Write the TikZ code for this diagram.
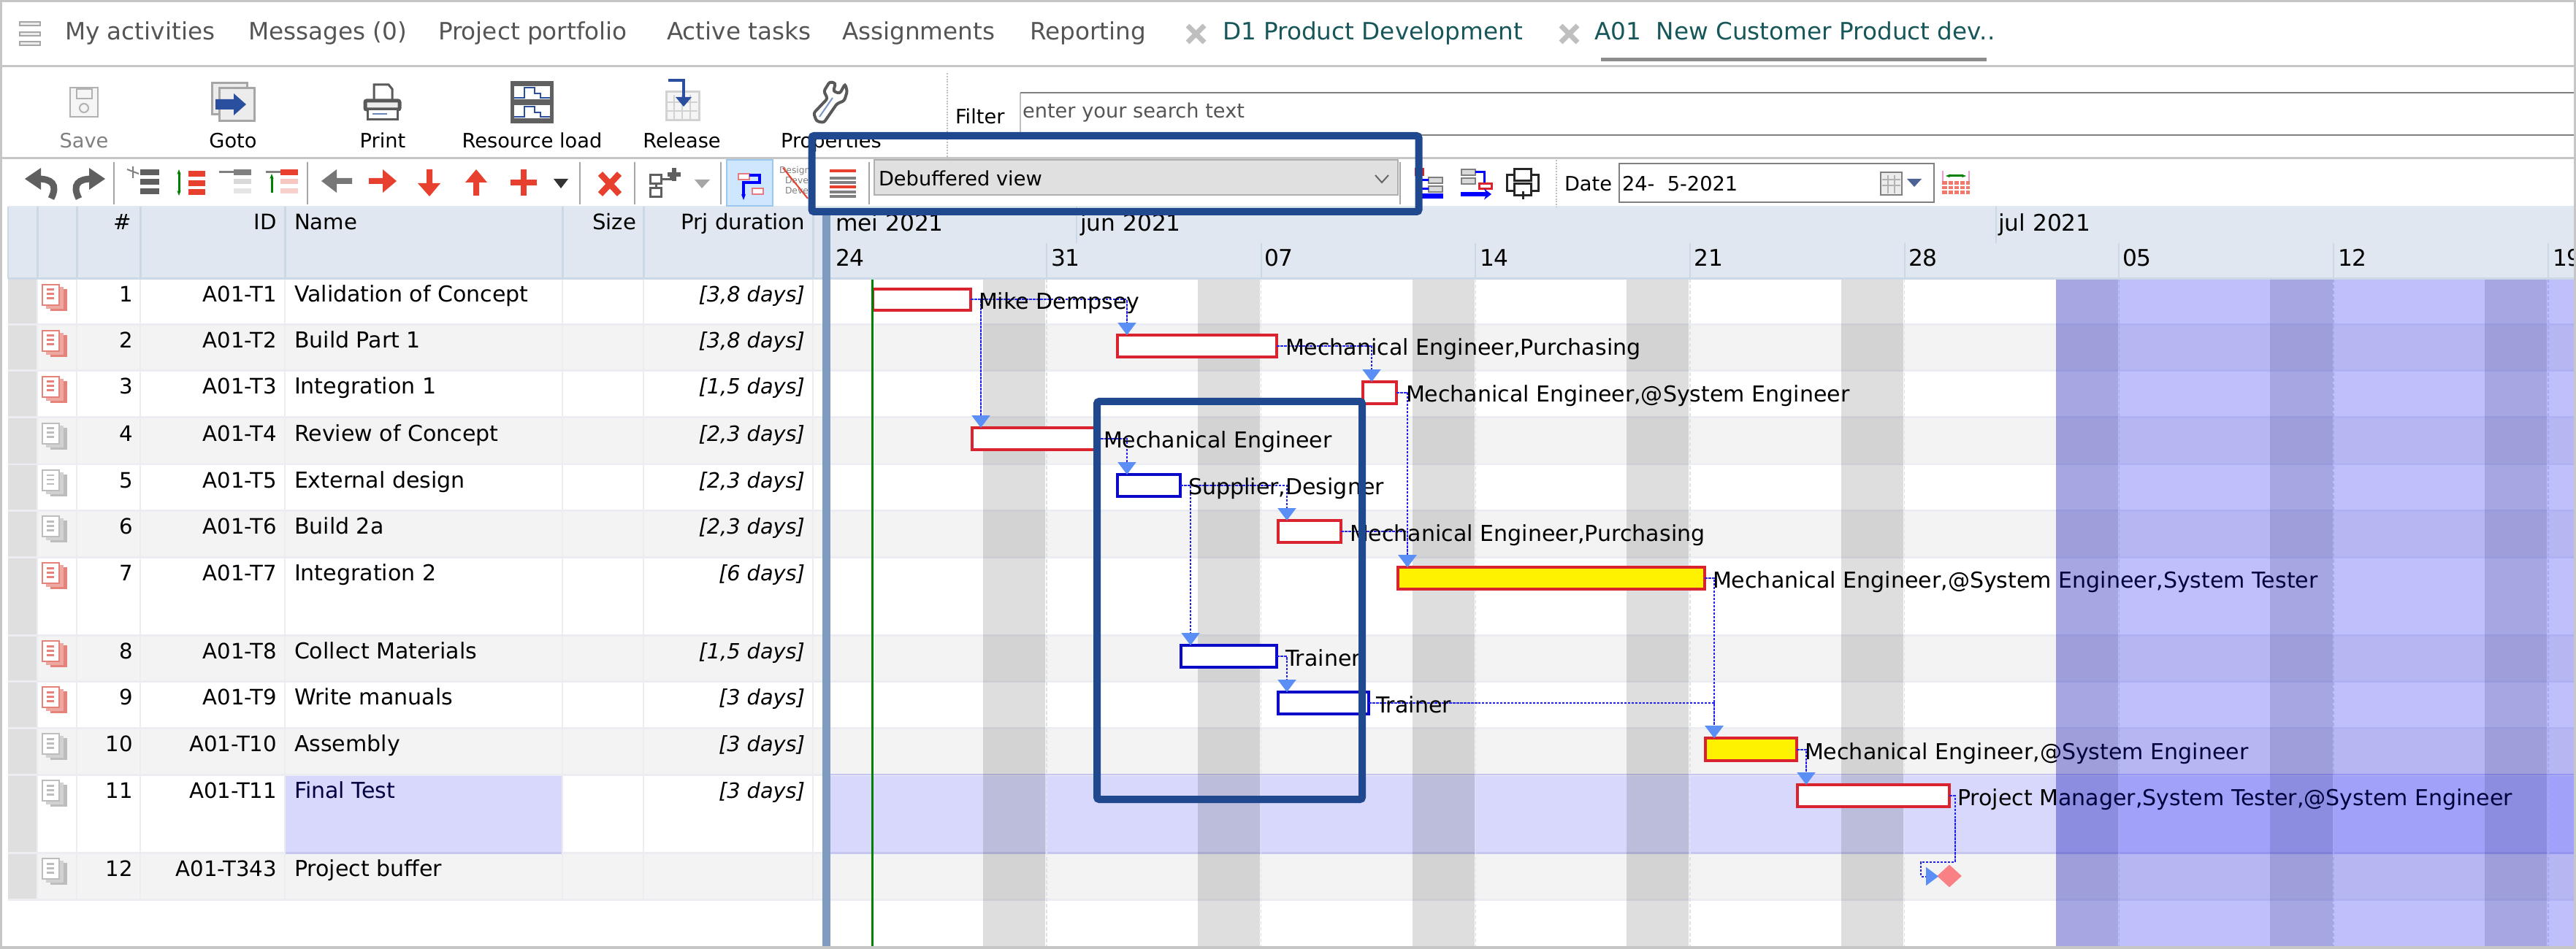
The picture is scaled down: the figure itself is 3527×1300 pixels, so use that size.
\documentclass[tikz,border=0pt]{standalone}
\usepackage{fontspec}
\setmainfont{DejaVu Sans}
\newfontfamily\ganttf{DejaVu Sans}
\usetikzlibrary{arrows.meta,shapes.geometric}
\definecolor{rowgray}{HTML}{F3F3F3}
\definecolor{rowline}{HTML}{EBEDF3}
\definecolor{headfill}{HTML}{E0E7F0}
\definecolor{headline}{HTML}{CBD8E6}
\definecolor{selrow}{HTML}{D8D8FC}
\definecolor{selline}{HTML}{C6C6F0}
\definecolor{leftcol}{HTML}{DFDFDF}
\definecolor{splitbar}{HTML}{7F9CC0}
\definecolor{frameg}{HTML}{C6C6C6}
\definecolor{barred}{HTML}{D9232E}
\definecolor{barblue}{HTML}{0A0AC8}
\definecolor{linkblue}{HTML}{2222EE}
\definecolor{tipblue}{HTML}{5B8FF5}
\definecolor{boxblue}{HTML}{20488F}
\definecolor{gridline}{HTML}{DCE2EE}
\definecolor{tabgray}{HTML}{555555}
\definecolor{tabteal}{HTML}{17575A}
\definecolor{iconred}{HTML}{E8402E}
\definecolor{icongray}{HTML}{5F5F5F}
\definecolor{pagered}{HTML}{E5837A}
\definecolor{pagegray}{HTML}{BDBDBD}
\definecolor{okgreen}{HTML}{4CAF50}
\definecolor{navy}{HTML}{2A4F9F}
\definecolor{overlayblue}{RGB}{0,0,244}
\definecolor{selbtn}{HTML}{CFE6FF}
\definecolor{selbtnl}{HTML}{9CC8EF}
\definecolor{dropfill}{HTML}{E0E0E0}
\definecolor{dropline}{HTML}{B0B0B0}
\definecolor{diamondred}{HTML}{F98085}
\newcommand\tabsize{\fontsize{18.6pt}{21pt}\selectfont}
\newcommand\listsize{\fontsize{17.1pt}{20pt}\selectfont}
\newcommand\toolsize{\fontsize{15.5pt}{18pt}\selectfont}
\newcommand\calsize{\fontsize{17.8pt}{20pt}\selectfont}
\newcommand\ganttsize{\fontsize{17.1pt}{20pt}\selectfont\ganttf}
\tikzset{
  x=0.02cm,y=-0.02cm,
  txt/.style={anchor=base west,inner sep=0pt,outer sep=0pt,font=\listsize,text=black},
  txtr/.style={txt,anchor=base east},
  heada/.style={txt,font=\fontsize{16.6pt}{20pt}\selectfont},
  headr/.style={heada,anchor=base east},
  calt/.style={txt,font=\calsize},
  toolt/.style={txt,font=\toolsize},
  txtc/.style={toolt,anchor=base},
  tabt/.style={txt,font=\tabsize,text=tabgray},
  tealt/.style={tabt,text=tabteal},
  ganttt/.style={txt,font=\ganttsize},
  px3/.style={line width=0.06cm},
  px2/.style={line width=0.04cm},
  redbar/.style={draw=barred,line width=0.07cm,fill=white,inner sep=0pt,outer sep=0pt},
  bluebar/.style={redbar,draw=barblue},
  yellowbar/.style={redbar,fill=yellow},
  link/.style={draw=linkblue,line width=0.04cm,dash pattern=on 0.07cm off 0.03cm},
  linkin/.style={link,-{Triangle[length=0.34cm,width=0.5cm,color=tipblue]}},
  hilite/.style={draw=boxblue,line width=0.2cm,rounded corners=0.06cm},
}
\newcommand\lbl[5][txt]{\node[#1] (#2) at (#3,#4) {#5};}
\newcommand\taskbar[6]{\node[#6,anchor=north west,minimum width={(#4-#2)*0.02cm},minimum height={(#5-#3)*0.02cm}] (#1) at (#2,#3) {};}
\newcommand\taskicon[3]{%
  \begin{scope}[shift={(#1,#2)}]
    \fill[#3] (12,7) rectangle (35,37);
    \fill[#3!70!white] (6,4) rectangle (30,34);
    \draw[#3,px2,fill=white] (1,1) rectangle (24,29);
    \foreach \q in {8,14,20}{\draw[#3,px3] (7,\q) -- (17,\q);}
  \end{scope}}
\begin{document}
\begin{tikzpicture}
\useasboundingbox (0,0) rectangle (3527,1300);
\fill[white] (0,0) rectangle (3527,1300);
% ---- chart and list rows
\foreach \t/\b in {445/508,572/636,699/763,870/933,997/1061,1168/1232}{
  \fill[rowgray] (105,\t) rectangle (1126,\b);
  \fill[rowgray] (1137,\t) rectangle (3527,\b);
}
\fill[selrow] (1137,1061) rectangle (3527,1168);
\fill[selrow] (390,1061) rectangle (770,1168);
\fill[leftcol] (11,382) rectangle (51,1232);
\fill[rowgray] (51,445) rectangle (105,508);
\fill[rowgray] (51,572) rectangle (105,636);
\fill[rowgray] (51,699) rectangle (105,763);
\fill[rowgray] (51,870) rectangle (105,933);
\fill[rowgray] (51,997) rectangle (105,1061);
\fill[rowgray] (51,1168) rectangle (105,1232);
\foreach \y in {445,508,572,636,699,763,870,933,997,1061,1232}{
  \draw[rowline,px3] (11,\y) -- (3527,\y);
}
\draw[selline,px3] (390,1168) -- (770,1168);
\draw[selline,px3] (1137,1168) -- (3527,1168);
\draw[selline,px2] (1137,1061) -- (3527,1061);
\draw[rowline,px3] (11,1168) -- (390,1168);
\draw[rowline,px3] (770,1168) -- (1126,1168);
\foreach \x in {51,105,192,390,770,881,1113}{
  \draw[rowline,px2] (\x,382) -- (\x,1232);
}
% ---- weekends
\foreach \x/\w in {1346/1431,1640/1725,1933.5/2019,2227/2312,2521/2606}{
  \fill[black,opacity=0.13] (\x,382) rectangle (\w,1297);
}
\foreach \x/\w in {2815/2900,3108/3194,3402/3487}{
  \fill[black,opacity=0.13] (\x,382) rectangle (\w,1297);
}
\foreach \x in {1433,1726.6,2020.3,2314,2607.7,2901.4,3195,3488.8}{
  \draw[gridline,line width=0.03cm,dash pattern=on 0.1cm off 0.06cm] (\x,382) -- (\x,1297);
}
% ---- bars
\taskbar{t1}{1195}{396}{1329}{425}{redbar}
\taskbar{t2}{1530}{459}{1748}{489}{redbar}
\taskbar{t3}{1866}{523}{1912}{553}{redbar}
\taskbar{t4}{1331}{586}{1502}{616}{redbar}
\taskbar{t5}{1530}{650}{1616}{680}{bluebar}
\taskbar{t6}{1750}{713}{1836}{743}{redbar}
\taskbar{t7}{1914}{777}{2334}{807}{yellowbar}
\taskbar{t8}{1617}{884}{1748}{914}{bluebar}
\taskbar{t9}{1750}{948}{1874}{978}{bluebar}
\taskbar{t10}{2335}{1011}{2460}{1042}{yellowbar}
\taskbar{t11}{2461}{1075}{2669}{1105}{redbar}
\node[diamond,fill=diamondred,inner sep=0pt,minimum width=0.68cm,minimum height=0.62cm] (pb) at (2669,1200) {};
% ---- connector targets
\coordinate (in2) at (1543,459);
\coordinate (in3) at (1878,523);
\coordinate (in4) at (1343,586);
\coordinate (in5) at (1543,650);
\coordinate (in6) at (1762,713);
\coordinate (in7) at (1927,777);
\coordinate (in8) at (1630,884);
\coordinate (in9) at (1762,948);
\coordinate (in10) at (2347,1011);
\coordinate (in11) at (2473,1075);
\coordinate (pb1) at (2676.5,1181);
\coordinate (pb2) at (2630,1200.5);
\coordinate (pbin) at (2654,1200.5);
\draw[linkin] (t1.east) -| (in2);
\draw[linkin] (t1.east) -| (in4);
\draw[linkin] (t2.east) -| (in3);
\draw[linkin] (t3.east) -| (in7);
\draw[linkin] (t4.east) -| (in5);
\draw[linkin] (t5.east) -| (in6);
\draw[linkin] (t5.east) -| (in8);
\draw[linkin] (t6.east) -| (in7);
\draw[linkin] (t8.east) -| (in9);
\draw[linkin] (t9.east) -| (in10);
\draw[linkin] (t7.east) -| (in10);
\draw[linkin] (t10.east) -| (in11);
\draw[linkin] (t11.east) -| (pb1) -| (pb2) -- (pbin);
% ---- bar labels
\lbl[ganttt]{g1}{1340}{424}{Mike Dempsey}
\lbl[ganttt]{g2}{1760}{487}{Mechanical Engineer,Purchasing}
\lbl[ganttt]{g3}{1925}{551}{Mechanical Engineer,@System Engineer}
\lbl[ganttt]{g4}{1511}{614}{Mechanical Engineer}
\lbl[ganttt]{g5}{1627}{678}{Supplier,Designer}
\lbl[ganttt]{g6}{1848}{741}{Mechanical Engineer,Purchasing}
\lbl[ganttt]{g7}{2345}{805}{Mechanical Engineer,@System Engineer,System Tester}
\lbl[ganttt]{g8}{1760}{912}{Trainer}
\lbl[ganttt]{g9}{1884}{976}{Trainer}
\lbl[ganttt]{g10}{2471}{1040}{Mechanical Engineer,@System Engineer}
\lbl[ganttt]{g11}{2680}{1103}{Project Manager,System Tester,@System Engineer}
% ---- non-working region over the chart
\fill[overlayblue,opacity=0.25] (2815,382) rectangle (3527,1297);
% ---- today line and splitter
\draw[green!50!black,px3] (1194,382) -- (1194,1297);
\fill[splitbar] (1126,283) rectangle (1137,1297);
% ---- list rows
\foreach \n/\id/\nm/\dur/\top/\col in {
  1/A01-T1/Validation of Concept/{[3,8 days]}/382/pagered,
  2/A01-T2/Build Part 1/{[3,8 days]}/445/pagered,
  3/A01-T3/Integration 1/{[1,5 days]}/508/pagered,
  4/A01-T4/Review of Concept/{[2,3 days]}/572/pagegray,
  5/A01-T5/External design/{[2,3 days]}/636/pagegray,
  6/A01-T6/Build 2a/{[2,3 days]}/699/pagegray,
  7/A01-T7/Integration 2/{[6 days]}/763/pagered,
  8/A01-T8/Collect Materials/{[1,5 days]}/870/pagered,
  9/A01-T9/Write manuals/{[3 days]}/933/pagered,
  10/A01-T10/Assembly/{[3 days]}/997/pagegray}{
  \taskicon{57}{\top+7}{\col}
  \node[headr] (num\n) at (182,\top+32) {\n};
  \node[headr] (id\n) at (379,\top+32) {\id};
  \node[txt] (nm\n) at (403,\top+32) {\nm};
  \node[headr,font=\fontsize{16.4pt}{20pt}\selectfont\itshape] (dur\n) at (1102,\top+32) {\dur};
}
\taskicon{57}{1068}{pagegray}
\lbl[headr]{num11}{182}{1093}{11}
\lbl[headr]{id11}{379}{1093}{A01-T11}
\node[txt,text=black!70!blue!85!black] (nm11) at (403,1093) {Final Test};
\node[headr,font=\fontsize{16.4pt}{20pt}\selectfont\itshape] (dur11) at (1102,1093) {[3 days]};
\taskicon{57}{1175}{pagegray}
\lbl[headr]{num12}{182}{1200}{12}
\lbl[headr]{id12}{379}{1200}{A01-T343}
\lbl{nm12}{403}{1200}{Project buffer}
% ---- table header
\fill[headfill] (11,283) rectangle (1126,382);
\fill[headfill] (1137,283) rectangle (3527,382);
\draw[headline,px3] (11,382) -- (1126,382);
\draw[headline,px3] (1137,382) -- (3527,382);
\draw[headline!60!white,px3] (11,284) -- (3527,284);
\foreach \x in {11,51,105,192,390,770,881,1113}{
  \draw[headline,px3] (\x,283) -- (\x,382);
}
\foreach \x in {1433,1726.6,2020.3,2314,2607.7,2901.4,3195,3488.8}{
  \draw[headline,px2] (\x,333) -- (\x,382);
}
\draw[headline,px2] (1473.5,283) -- (1473.5,333);
\draw[headline,px2] (2733,283) -- (2733,333);
\lbl[headr]{hnum}{180}{315}{\#}
\lbl[headr]{hid}{379}{315}{ID}
\lbl[heada]{hname}{403}{315}{Name}
\lbl[headr]{hsize}{871}{315}{Size}
\lbl[headr]{hdur}{1102}{315}{Prj duration}
\lbl[calt]{mmei}{1144}{317}{mei 2021}
\lbl[calt]{mjun}{1479}{317}{jun 2021}
\lbl[calt]{mjul}{2736}{317}{jul 2021}
\lbl[calt]{d1}{1144}{365}{24}
\lbl[calt]{d2}{1439}{365}{31}
\lbl[calt]{d3}{1731}{365}{07}
\lbl[calt]{d4}{2026}{365}{14}
\lbl[calt]{d5}{2319.5}{365}{21}
\lbl[calt]{d6}{2613}{365}{28}
\lbl[calt]{d7}{2906}{365}{05}
\lbl[calt]{d8}{3201}{365}{12}
\lbl[calt]{d9}{3495}{365}{19}
% ---- tab strip
\foreach \y in {33,47,60}{
  \draw[gray!70,px2,fill=gray!15] (27,\y-2.5) rectangle (55,\y+2.5);
}
\lbl[tabt]{tab1}{89}{55}{My activities}
\lbl[tabt]{tab2}{340}{55}{Messages (0)}
\lbl[tabt]{tab3}{600}{55}{Project portfolio}
\lbl[tabt]{tab4}{913}{55}{Active tasks}
\lbl[tabt]{tab5}{1153}{55}{Assignments}
\lbl[tabt]{tab6}{1410}{55}{Reporting}
\draw[gray!50,line width=0.14cm] (1626,35) -- (1649,58) (1649,35) -- (1626,58);
\lbl[tealt]{tab7}{1674}{55}{D1 Product Development}
\draw[gray!50,line width=0.14cm] (2137,35) -- (2160,58) (2160,35) -- (2137,58);
\lbl[tealt]{tab8}{2183}{55}{A01\ \ New Customer Product dev..}
\fill[gray!90] (2192,79) rectangle (2720,84);
\draw[frameg,px3] (0,91) -- (3527,91);
\draw[frameg,px3] (0,217) -- (3527,217);
% ---- big toolbar
\draw[gray!60,px2,fill=gray!8] (96,120) rectangle (134,160);
\draw[gray!60,px2] (105,122) rectangle (126,135);
\draw[gray!60,px2] (115,148) circle (6);
\lbl[txtc,text=gray]{tsave}{115}{203}{Save}
\foreach \d in {0,10}{\draw[gray!70,px3,fill=gray!15] (290+\d,114+\d*0.7) rectangle (338+\d,157+\d*0.9);}
\fill[navy] (295,136) -- (320,136) -- (320,128) -- (337,143) -- (320,158) -- (320,150) -- (295,150) -- cycle;
\lbl[txtc]{tgoto}{319}{203}{Goto}
\draw[gray!70!black,px3,fill=white] (512,116) -- (532,116) -- (537,122) -- (537,138) -- (512,138) -- cycle;
\draw[gray!70!black,line width=0.1cm,fill=gray!15,rounded corners=0.04cm] (500,138) rectangle (547,150);
\draw[gray!70!black,px3,fill=white] (503,150) rectangle (544,164);
\draw[navy!70,px2] (510,156) -- (530,156);
\lbl[txtc]{tprint}{524}{203}{Print}
\fill[gray!75!black] (699,111) rectangle (758,169);
\foreach \y in {118,144}{
  \fill[white] (704,\y) rectangle (753,\y+18);
  \draw[navy,px2] (704,\y+16) -- (718,\y+16) -- (718,\y+2) -- (732,\y+2) -- (732,\y+10) -- (740,\y+10) -- (740,\y+16) -- (753,\y+16);
}
\lbl[txtc]{tres}{728.5}{203}{Resource load}
\draw[gray!35,px3,fill=gray!8] (912,126) rectangle (957,165);
\foreach \x in {923,934,945}{\draw[gray!35,px2] (\x,130) -- (\x,163);}
\foreach \y in {140,152}{\draw[gray!35,px2] (914,\y) -- (955,\y);}
\draw[navy,line width=0.08cm] (915,110) -- (936,110) -- (936,135);
\fill[navy] (925,133) -- (947,133) -- (936,146) -- cycle;
\lbl[txtc]{trel}{933.5}{203}{Release}
\draw[gray!70!black,line width=0.08cm,fill=white,rounded corners=0.06cm] (1136,112) -- (1128,125) -- (1133,135) -- (1114,155) -- (1118,166) -- (1128,168) -- (1146,142) -- (1156,138) -- (1160,125) -- (1157,115) -- (1150,128) -- (1141,125) -- (1144,114) -- cycle;
\draw[navy!60,px2] (1122,160) -- (1140,134);
\lbl[txtc]{tprop}{1138}{203}{Properties}
% ---- filter
\draw[gray!50,px2,densely dotted] (1297,100) -- (1297,217);
\lbl[toolt]{filt}{1308}{170}{Filter}
\draw[gray!50,px2] (1397,127) -- (1397,185);
\draw[gray,px2] (1397,127) -- (3527,127);
\draw[gray,px2] (1397,185) -- (3527,185);
\lbl[toolt,text=tabgray]{ftext}{1400}{162}{enter your search text}
% ---- small toolbar
\foreach \x in {156,421,794,869,987,1190,1917}{
  \draw[gray!70,px2] (\x,222) -- (\x,280);
}
\draw[icongray,line width=0.18cm] (70,272) .. controls (80,252) and (70,245) .. (52,245);
\fill[icongray] (34,245) -- (56,230) -- (56,260) -- cycle;
\draw[icongray,line width=0.18cm] (108,272) .. controls (98,252) and (108,245) .. (126,245);
\fill[icongray] (144,245) -- (122,230) -- (122,260) -- cycle;
% bar icons
\foreach \y in {232,245,258}{\fill[icongray] (192,\y) rectangle (218,\y+8);}
\draw[gray,px2] (174,232) -- (190,238) (182,228) -- (182,244);
\foreach \y in {234,247,259}{\fill[iconred] (258,\y) rectangle (281,\y+8);}
\draw[green!50!black,px3,{Stealth[length=0.14cm]}-{Stealth[length=0.14cm]}] (245,232) -- (245,268);
\fill[gray] (320,232) rectangle (344,240);
\fill[gray!30] (320,245) rectangle (344,252);
\fill[gray!20] (320,258) rectangle (344,265);
\draw[gray,px3] (300,236) -- (320,236);
\fill[iconred] (384,232) rectangle (408,240);
\fill[iconred!30] (384,245) rectangle (408,252);
\fill[iconred!25] (384,258) rectangle (408,265);
\draw[green!50!black,px3,-{Stealth[length=0.14cm]}] (372,264) -- (372,238);
\draw[gray,px3] (364,236) -- (384,236);
% arrows
\fill[icongray!85] (482,244) -- (461,244) -- (461,232) -- (440,248) -- (461,264) -- (461,252) -- (482,252) -- cycle;
\fill[iconred] (505,244) -- (524,244) -- (524,232) -- (543,248) -- (524,264) -- (524,252) -- (505,252) -- cycle;
\fill[iconred] (584,232) -- (592,232) -- (592,251) -- (603,251) -- (588,269) -- (572,251) -- (584,251) -- cycle;
\fill[iconred] (648,268) -- (656,268) -- (656,250) -- (667,250) -- (652,232) -- (637,250) -- (648,250) -- cycle;
\fill[iconred] (713,232) rectangle (721,268);
\fill[iconred] (699,246) rectangle (735,254);
\fill[black!80] (758,245) -- (778,245) -- (768,258) -- cycle;
\draw[iconred,line width=0.17cm] (822,238) -- (848,266) (848,238) -- (822,266);
% network icon
\draw[icongray,px3,fill=white] (890,240) rectangle (905,252);
\draw[icongray,px3,fill=white] (890,258) rectangle (905,270);
\draw[icongray,px3] (898,252) -- (898,258);
\draw[icongray,px3] (905,246) -- (918,246) -- (918,236);
\fill[icongray] (920,230) rectangle (926,248);
\fill[icongray] (914,236) rectangle (932,242);
\fill[gray!70] (951,246) -- (972,246) -- (961,258) -- cycle;
% selected button
\fill[selbtn] (995,219) rectangle (1058,282);
\draw[selbtnl,px2] (995,219) rectangle (1058,282);
\draw[barred!60,px2,fill=white] (1011,238) rectangle (1026,246);
\draw[barred!60,px2,fill=white] (1030,258) rectangle (1045,266);
\draw[blue,line width=0.08cm,-{Stealth[length=0.16cm]}] (1026,240) -- (1040,240) -- (1040,250) -- (1018,250) -- (1018,268) -- (1018,274);
% crossed text icon
\node[txt,font=\fontsize{7pt}{8pt}\selectfont,text=gray] (ic1) at (1067,238) {Design};
\node[txt,font=\fontsize{7pt}{8pt}\selectfont,text=gray] (ic2) at (1075,252) {Deve};
\node[txt,font=\fontsize{7pt}{8pt}\selectfont,text=gray] (ic3) at (1075,266) {Deve};
\draw[iconred,px2] (1072,230) -- (1106,272);
% lines icon
\foreach \y/\c in {234/iconred,244/gray,250/gray,256/iconred,263/gray,269/gray}{
  \fill[\c] (1136,\y-2) rectangle (1172,\y+2);
}
% dropdown
\fill[dropfill] (1197,219) rectangle (1914,267);
\draw[dropline,px2] (1197,219) rectangle (1914,267);
\draw[gray!80!black,px2] (1883,240) -- (1892,250) -- (1901,240);
\lbl[toolt]{ddv}{1203}{255}{Debuffered view}
% three icons after dropdown
\draw[barred,px3,fill=white] (1938,232) rectangle (1948,240);
\draw[gray,px2,fill=gray!30] (1956,243) rectangle (1975,251);
\draw[gray,px2,fill=gray!30] (1956,255) rectangle (1975,263);
\draw[blue,px3] (1943,240) -- (1943,259) -- (1956,259) (1943,247) -- (1956,247);
\fill[blue] (1938,265) rectangle (1976,272);
\draw[gray,px2,fill=gray!30] (2001,232) rectangle (2020,240);
\draw[gray,px2,fill=gray!30] (2001,244) rectangle (2020,252);
\draw[blue,px3] (2020,236) -- (2032,236) -- (2032,252);
\draw[barred,px3,fill=white] (2025,252) rectangle (2042,259);
\draw[blue,line width=0.11cm,-{Stealth[length=0.2cm,width=0.3cm]}] (2000,266) -- (2042,266);
\draw[black!85,px3,fill=white] (2063,240) rectangle (2106,262);
\draw[black!85,px3,fill=white] (2073,232) rectangle (2096,248);
\draw[black!85,px3,fill=white] (2073,252) rectangle (2096,268);
\draw[black!85,px3] (2085,262) -- (2085,273);
\draw[gray!50,px2,densely dotted] (2131,219) -- (2131,283);
% date
\lbl[toolt]{ldate}{2142}{262}{Date}
\draw[gray,px2,fill=white] (2217,224) rectangle (2648,277);
\lbl[toolt]{vdate}{2221}{262}{24-\ \ 5-2021}
\draw[gray,px2,fill=gray!15] (2575,236) rectangle (2604,267);
\foreach \x in {2585,2594}{\draw[gray!60,px2] (\x,240) -- (\x,265);}
\foreach \y in {246,254}{\draw[gray!60,px2] (2577,\y) -- (2602,\y);}
\fill[navy!60!gray] (2611,245) -- (2631,245) -- (2621,256) -- cycle;
\fill[iconred!70] (2659,248) rectangle (2697,266);
\foreach \x in {2667,2675,2683,2691}{\draw[white,px2] (\x,248) -- (\x,266);}
\foreach \y in {254,260}{\draw[white,px2] (2659,\y) -- (2697,\y);}
\draw[magenta!40,px2] (2660,234) -- (2660,248) (2696,234) -- (2696,248);
\draw[green!50!black,px3,{Stealth[length=0.12cm]}-{Stealth[length=0.12cm]}] (2664,241) -- (2692,241);
% highlight boxes
\draw[hilite] (1111.5,186) rectangle (1942.5,290);
\draw[hilite] (1502,550) rectangle (1865,1095);
% outer frame
\draw[frameg,line width=0.08cm] (1,1.5) rectangle (3525.5,1298);
\end{tikzpicture}
\end{document}
